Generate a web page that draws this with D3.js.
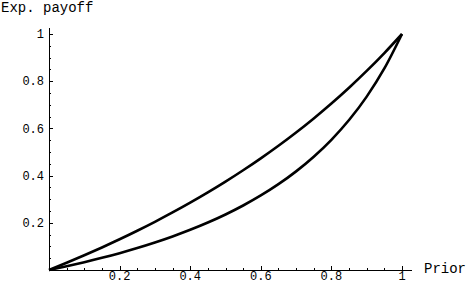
<!DOCTYPE html>
<html><head><meta charset="utf-8">
<script src="https://cdn.jsdelivr.net/npm/d3@7"></script>
<style>body{margin:0;background:#fff}svg{display:block}
text{font-family:"Liberation Mono","Courier New",Courier,monospace}</style>
</head><body>
<script>
const priors = [0,0.05,0.1,0.15,0.2,0.25,0.3,0.35,0.4,0.45,0.5,0.55,0.6,0.65,0.7,0.75,0.8,0.85,0.9,0.95,1];
const upperPayoff = [0,0.0306,0.0624,0.0956,0.1302,0.1664,0.2042,0.2438,0.2853,0.3288,0.3745,0.4226,0.4732,0.5265,0.5828,0.6424,0.7055,0.7724,0.8435,0.9192,1];
const lowerPayoff = [0,0.0159,0.0331,0.0515,0.0714,0.0930,0.1165,0.1421,0.1702,0.2011,0.2353,0.2733,0.3158,0.3636,0.4179,0.48,0.5517,0.6355,0.7347,0.8539,1];
const xTicks = [0.2,0.4,0.6,0.8,1];
const xTickLabels = ["0.2","0.4","0.6","0.8","1"];
const yTicks = [0.2,0.4,0.6,0.8,1];
const yTickLabels = ["0.2","0.4","0.6","0.8","1"];
const xLabel = "Prior", yLabel = "Exp. payoff";

const W=466,H=284;
const svg=d3.select("body").append("svg").attr("width",W).attr("height",H);
const x=d3.scaleLinear().domain([0,1]).range([49,402]);
const y=d3.scaleLinear().domain([0,1]).range([270,34]);
const minor=d3.range(1,20).map(i=>i*0.05).filter(v=>Math.abs(v*5-Math.round(v*5))>1e-6);

// x axis
svg.append("line").attr("x1",x(0)).attr("x2",412).attr("y1",y(0)+0.5).attr("y2",y(0)+0.5).attr("stroke","#000");
xTicks.forEach((t,i)=>{
  svg.append("line").attr("x1",Math.round(x(t))+0.5).attr("x2",Math.round(x(t))+0.5).attr("y1",y(0)).attr("y2",y(0)-4).attr("stroke","#000");
  svg.append("text").attr("x",x(t)).attr("y",280).attr("text-anchor","middle").attr("font-size",12).text(xTickLabels[i]);
});
minor.forEach(t=>svg.append("line").attr("x1",Math.round(x(t))+0.5).attr("x2",Math.round(x(t))+0.5).attr("y1",y(0)).attr("y2",y(0)-2).attr("stroke","#000"));
// y axis
svg.append("line").attr("x1",x(0)+0.5).attr("x2",x(0)+0.5).attr("y1",y(0)).attr("y2",28).attr("stroke","#000");
yTicks.forEach((t,i)=>{
  svg.append("line").attr("x1",x(0)).attr("x2",x(0)+4).attr("y1",Math.round(y(t))+0.5).attr("y2",Math.round(y(t))+0.5).attr("stroke","#000");
  svg.append("text").attr("x",44).attr("y",y(t)).attr("dy","0.35em").attr("text-anchor","end").attr("font-size",12).text(yTickLabels[i]);
});
minor.forEach(t=>svg.append("line").attr("x1",x(0)).attr("x2",x(0)+2).attr("y1",Math.round(y(t))+0.5).attr("y2",Math.round(y(t))+0.5).attr("stroke","#000"));
// labels
svg.append("text").attr("x",1).attr("y",12).attr("font-size",14).text(yLabel);
svg.append("text").attr("x",424).attr("y",273).attr("font-size",14).text(xLabel);
// curves
const line=d3.line().x((d,i)=>x(priors[i])).y(d=>y(d)).curve(d3.curveMonotoneX);
[upperPayoff,lowerPayoff].forEach(s=>svg.append("path").datum(s).attr("d",line).attr("fill","none").attr("stroke","#000").attr("stroke-width",2.6));
</script>
</body></html>
